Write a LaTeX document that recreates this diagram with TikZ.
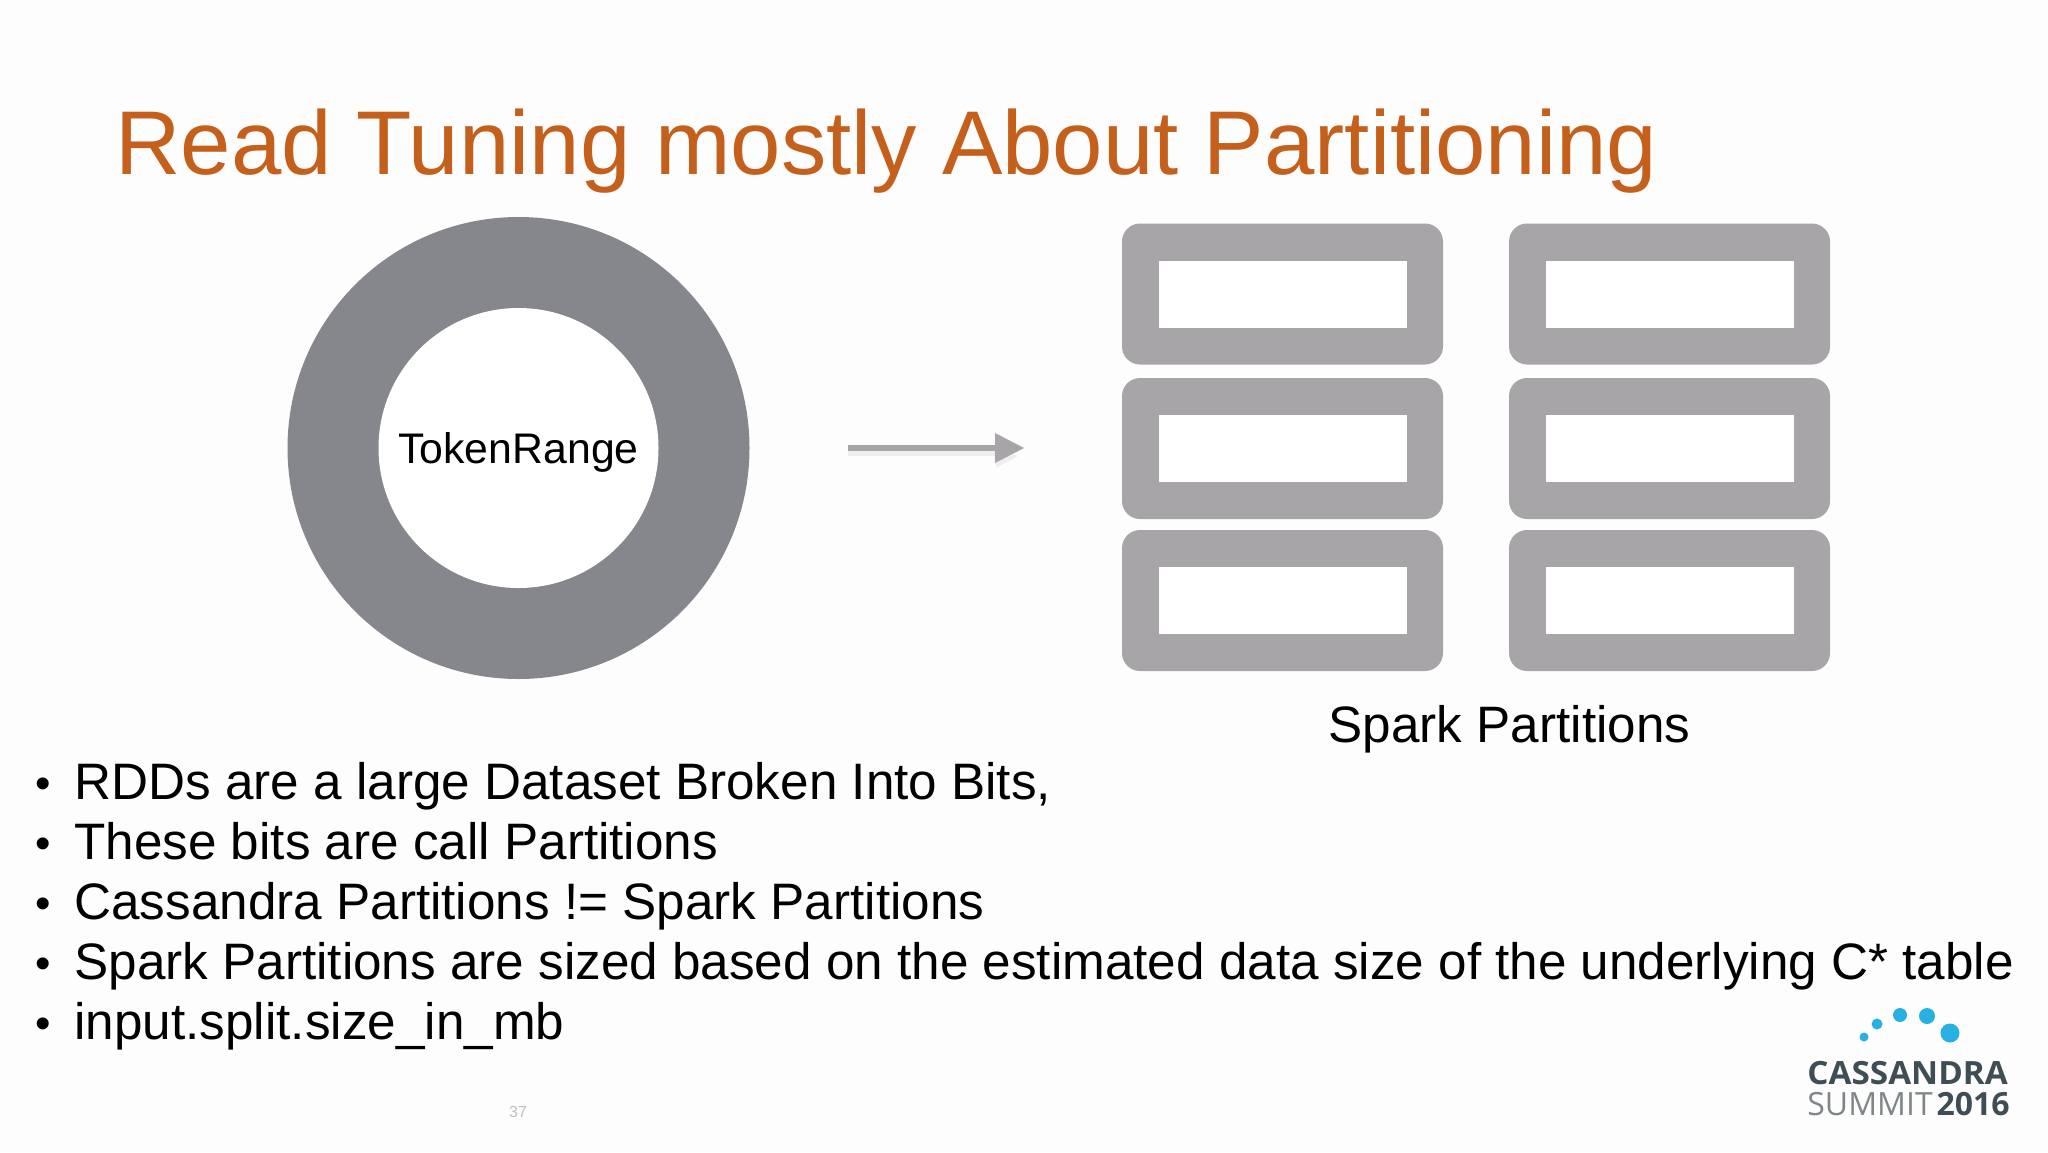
\documentclass[tikz,border=0pt]{standalone}
\usepackage{fontspec}
\setmainfont{Liberation Sans}
\newfontfamily\logofont{Open Sans}
\newfontfamily\logowide[FakeStretch=1.04]{Open Sans}
\definecolor{titleor}{HTML}{C5601C}
\definecolor{ringgray}{HTML}{85878C}
\definecolor{boxgray}{HTML}{A7A5A8}
\definecolor{pagebg}{HTML}{FDFDFD}
\definecolor{dotblue}{HTML}{29B0E2}
\definecolor{logodark}{HTML}{3F4E54}
\definecolor{logolight}{HTML}{7E8689}
\newcommand{\fsz}[1]{\fontsize{#1}{#1}\selectfont}
\tikzset{
  x=0.5pt,y=-0.5pt,
  outerbox/.style={rectangle,fill=boxgray,rounded corners=9pt,minimum width=160.5pt,minimum height=70.5pt,inner sep=0pt},
  innerbox/.style={rectangle,fill=white,minimum width=124pt,minimum height=33.5pt,inner sep=0pt},
  bullettext/.style={anchor=base west,inner sep=0pt,text=black,font=\fsz{25.62}},
  bulletdot/.style={anchor=base,inner sep=0pt,text=black,font=\fsz{22}},
  logodot/.style={circle,fill=dotblue,inner sep=0pt},
}
\begin{document}
\begin{tikzpicture}
\useasboundingbox (0,0) rectangle (2048,1152);
\fill[pagebg] (0,0) rectangle (2048,1152);
\node[anchor=base west,inner sep=0pt,text=titleor,font=\fsz{45.27}] (title) at (115,174) {Read Tuning mostly About Partitioning};
% ring
\node[circle,fill=ringgray,minimum size=231pt,inner sep=0pt] (ringouter) at (518.5,448) {};
\node[circle,fill=white,minimum size=140pt,inner sep=0pt] (ring) at (518.5,448) {};
\node[inner sep=0pt,font=\fsz{21.4},text=black] (ringlabel) at (518.5,452) {TokenRange};
% arrow
\coordinate (arrowstart) at (848,448);
\coordinate (arrowend) at (1024,448);
\fill[black,opacity=0.06] (848,451) rectangle (1000,456);
\fill[black,opacity=0.06] (996,462) -- (1014,454) -- (1018,456) -- (996,468) -- cycle;
\fill[boxgray] (arrowstart) ++(0,-3) rectangle (1000,451);
\fill[boxgray] (995,433) -- (arrowend) -- (995,463) -- cycle;
% boxes
\foreach \n/\cx in {l/1282.5,r/1669.5}{
  \foreach \m/\cy in {a/294,b/448.5,c/600.5}{
    \node[outerbox] (o\n\m) at (\cx,\cy) {};
    \node[innerbox] (i\n\m) at (\cx,\cy) {};
  }
}
\node[anchor=base,inner sep=0pt,text=black,font=\fsz{25.6}] (spark) at (1509.5,742.5) {Spark Partitions};
% bullets
\foreach \k/\yy/\txt in {
 a/799/{RDDs are a large Dataset Broken Into Bits,},
 b/859/{These bits are call Partitions},
 c/919/{Cassandra Partitions != Spark Partitions},
 d/979/{Spark Partitions are sized based on the estimated data size of the underlying C* table},
 e/1039/{input.split.size\_in\_mb}}{
  \node[bulletdot] (dot\k) at (43,\yy-1) {•};
  \node[bullettext] (bul\k) at (74,\yy) {\txt};
}
\node[text=black!25,inner sep=0pt,font=\fsz{8}] (pagenum) at (518,1112) {37};
% logo
\node[logodot,minimum size=9.5pt] (d5) at (1950,1033) {};
\node[logodot,minimum size=8pt] (d4) at (1927,1016) {};
\node[logodot,minimum size=7pt] (d3) at (1900,1015) {};
\node[logodot,minimum size=5.5pt] (d2) at (1877,1024) {};
\node[logodot,minimum size=4.5pt] (d1) at (1864,1037) {};
\node[anchor=base west,inner sep=0pt,text=logodark,font=\logowide\bfseries\fsz{16}] (cass) at (1807,1084) {CASSANDRA};
\node[anchor=base west,inner sep=0pt,text=logolight,font=\logofont\fsz{16}] (summit) at (1807,1115) {SUMMIT};
\node[anchor=base east,inner sep=0pt,text=logodark,font=\logofont\bfseries\fsz{16}] (year) at (2010,1115) {2016};
\end{tikzpicture}
\end{document}
